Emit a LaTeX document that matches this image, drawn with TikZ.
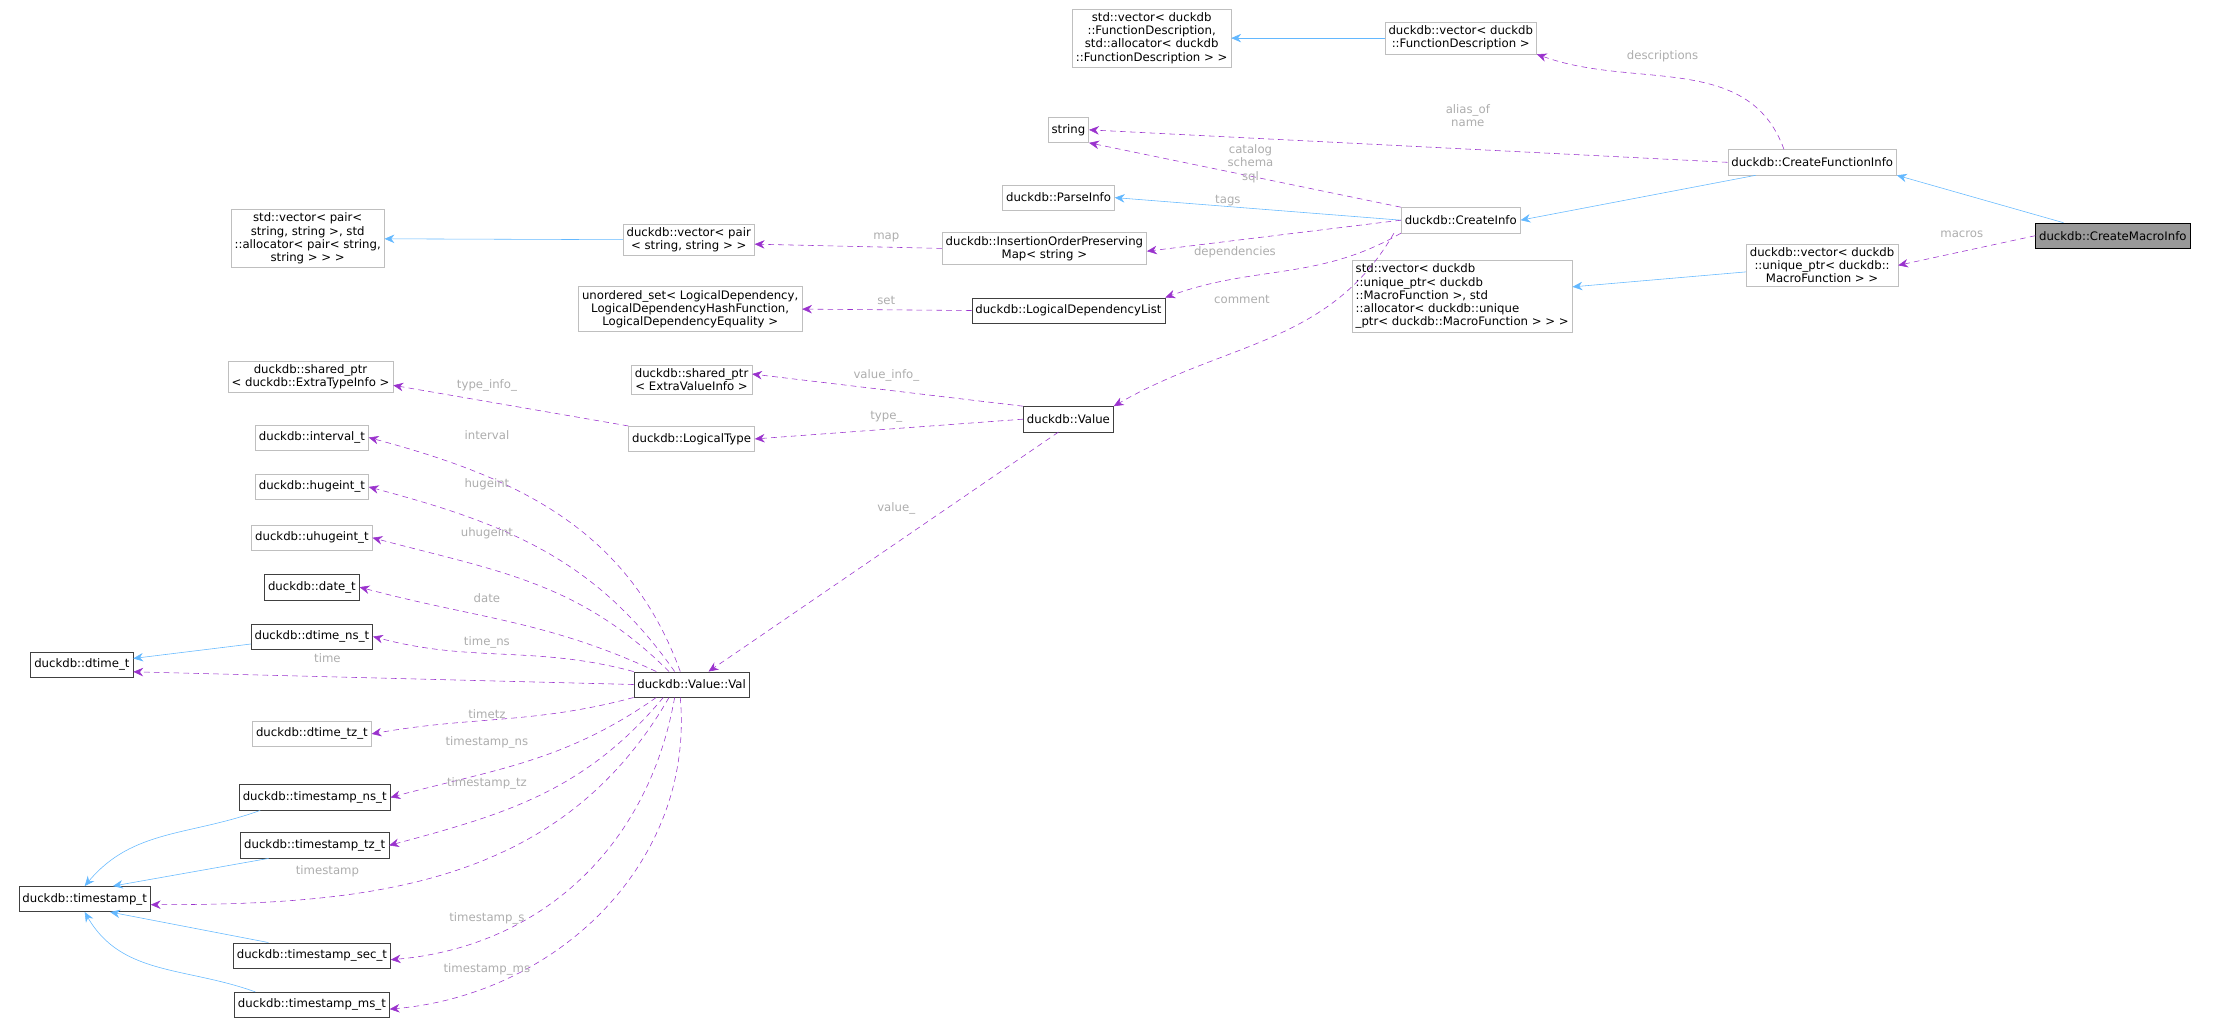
\documentclass[tikz,border=0pt]{standalone}
\usepackage{fontspec}
\setmainfont{DejaVu Sans}
\usetikzlibrary{arrows.meta, positioning}
\definecolor{inhblue}{HTML}{63B8FF}
\definecolor{usepurple}{HTML}{9A32CD}
\definecolor{lightedge}{HTML}{BFBFBF}
\definecolor{darkedge}{HTML}{404040}
\definecolor{lblgray}{HTML}{ADADAD}
\tikzset{
  cls/.style={draw=lightedge, fill=white, font=\fontsize{8.3}{9.4}\selectfont, inner sep=2.5pt, align=center, minimum height=18pt},
  doc/.style={cls, draw=darkedge},
  inh/.style={inhblue, -{Stealth[length=7pt,width=6pt]}},
  use/.style={usepurple, dashed, dash pattern=on 4pt off 3pt, -{Stealth[length=7pt,width=6pt]}},
  lbl/.style={lblgray, font=\fontsize{8.3}{9.4}\selectfont, align=center, inner sep=1pt}
}
\begin{document}
\begin{tikzpicture}[x=1pt, y=-1pt]
  \useasboundingbox (0,0) rectangle (1568,729);

  % classes
  \node[cls, draw=black, fill=black!40] (macro) at (1497,167) {duckdb::CreateMacroInfo};
  \node[cls] (cfi) at (1284,115) {duckdb::CreateFunctionInfo};
  \node[cls] (vecfd) at (1035,27) {duckdb::vector< duckdb\\::FunctionDescription >};
  \node[cls] (stdvecfd) at (816,27) {std::vector< duckdb\\::FunctionDescription,\\ std::allocator< duckdb\\::FunctionDescription > >};
  \node[cls] (str) at (757,92) {string};
  \node[cls] (parse) at (750,140) {duckdb::ParseInfo};
  \node[cls] (create) at (1035,156) {duckdb::CreateInfo};
  \node[cls] (iop) at (740,176) {duckdb::InsertionOrderPreserving\\Map< string >};
  \node[cls] (vecpair) at (488,170) {duckdb::vector< pair\\< string, string > >};
  \node[cls] (stdvecpair) at (218,169) {std::vector< pair<\\ string, string >, std\\::allocator< pair< string,\\ string > > >};
  \node[doc] (ldl) at (757,220) {duckdb::LogicalDependencyList};
  \node[cls] (uset) at (489,219) {unordered\_set< LogicalDependency,\\LogicalDependencyHashFunction,\\ LogicalDependencyEquality >};
  \node[cls] (vecmacro) at (1291,188) {duckdb::vector< duckdb\\::unique\_ptr< duckdb::\\MacroFunction > >};
  \node[cls, align=left] (stdvecmacro) at (1036,210) {std::vector< duckdb\\::unique\_ptr< duckdb\\::MacroFunction >, std\\::allocator< duckdb::unique\\\_ptr< duckdb::MacroFunction > > >};
  \node[cls] (evi) at (490,269) {duckdb::shared\_ptr\\< ExtraValueInfo >};
  \node[cls] (eti) at (220,267) {duckdb::shared\_ptr\\< duckdb::ExtraTypeInfo >};
  \node[doc] (value) at (757,297) {duckdb::Value};
  \node[cls] (ltype) at (490,311) {duckdb::LogicalType};
  \node[cls] (interval) at (221,310) {duckdb::interval\_t};
  \node[cls] (hugeint) at (221,345) {duckdb::hugeint\_t};
  \node[cls] (uhugeint) at (221,381) {duckdb::uhugeint\_t};
  \node[doc] (date) at (221,416) {duckdb::date\_t};
  \node[doc] (dtimens) at (221,451) {duckdb::dtime\_ns\_t};
  \node[doc] (dtime) at (58,471) {duckdb::dtime\_t};
  \node[doc] (val) at (490,485) {duckdb::Value::Val};
  \node[cls] (dtimetz) at (221,520) {duckdb::dtime\_tz\_t};
  \node[doc] (tsns) at (223,565) {duckdb::timestamp\_ns\_t};
  \node[doc] (tstz) at (223,599) {duckdb::timestamp\_tz\_t};
  \node[doc] (ts) at (60,637) {duckdb::timestamp\_t};
  \node[doc] (tssec) at (221,677) {duckdb::timestamp\_sec\_t};
  \node[doc] (tsms) at (221,712) {duckdb::timestamp\_ms\_t};

  % inheritance
  \draw[inh] (macro.north west) ++(20,0) -- (cfi.south east) ;
  \draw[inh] (cfi.south west) ++(20,0) -- (create.east);
  \draw[inh] (create.west) -- (parse.east);
  \draw[inh] (vecfd) -- (stdvecfd);
  \draw[inh] (vecpair) -- (stdvecpair);
  \draw[inh] (vecmacro) -- (stdvecmacro);
  \draw[inh] (dtimens) -- (dtime);
  \draw[inh] (tsns.south west) ++(15,0) to[out=200,in=50] (ts.north);
  \draw[inh] (tstz.south west) ++(20,0) -- ([xshift=20pt]ts.north);
  \draw[inh] (tssec.north west) ++(25,0) -- ([xshift=18pt]ts.south);
  \draw[inh] (tsms.north west) ++(15,0) to[out=160,in=-60] (ts.south);

  % usage
  \draw[use] (macro.west) -- (vecmacro.east);
  \draw[use] ([xshift=-20pt]cfi.north) to[out=110,in=-20] (vecfd.south east);
  \draw[use] (cfi.west) -- (str.east);
  \draw[use] (create.north west) -- (str.south east);
  \draw[use] (create.west) -- ([yshift=-2pt]iop.east);
  \draw[use] (create.south west) to[out=-150,in=20] (ldl.north east);
  \draw[use] ([xshift=-5pt]create.south west) to[out=-120,in=30] (value.north east);
  \draw[use] (iop.west) -- ([yshift=-3pt]vecpair.east);
  \draw[use] (ldl.west) -- (uset.east);
  \draw[use] (value.north west) -- ([yshift=4pt]evi.east);
  \draw[use] (value.west) -- (ltype.east);
  \draw[use] (ltype.north west) -- ([yshift=-6pt]eti.east);
  \draw[use] (value.south west) ++(25,0) -- ([xshift=12pt]val.north);

  \draw[use] ([xshift=-8pt]val.north) to[out=110,in=-15] (interval.east);
  \draw[use] ([xshift=-12pt]val.north) to[out=125,in=-15] (hugeint.east);
  \draw[use] ([xshift=-16pt]val.north) to[out=135,in=-15] (uhugeint.east);
  \draw[use] ([xshift=-25pt]val.north) to[out=155,in=-15] (date.east);
  \draw[use] (val.north west) to[out=165,in=-15] (dtimens.east);
  \draw[use] (val.west) -- ([yshift=-5pt]dtime.east);
  \draw[use] (val.south west) to[out=-165,in=10] (dtimetz.east);
  \draw[use] ([xshift=-25pt]val.south) to[out=-145,in=15] (tsns.east);
  \draw[use] ([xshift=-20pt]val.south) to[out=-130,in=15] (tstz.east);
  \draw[use] ([xshift=-16pt]val.south) to[out=-120,in=0] ([yshift=-4pt]ts.east);
  \draw[use] ([xshift=-12pt]val.south) to[out=-100,in=5] ([yshift=-3pt]tssec.east);
  \draw[use] ([xshift=-8pt]val.south) to[out=-85,in=5] ([yshift=-3pt]tsms.east);

  % labels
  \node[lbl] (lmacros) at (1390,166) {macros};
  \node[lbl] (ldesc) at (1178,40) {descriptions};
  \node[lbl] (lalias) at (1040,82) {alias\_of\\name};
  \node[lbl] (lcat) at (886,116) {catalog\\schema\\sql};
  \node[lbl] (ltags) at (870,142) {tags};
  \node[lbl] (ldeps) at (875,179) {dependencies};
  \node[lbl] (lcomm) at (880,212) {comment};
  \node[lbl] (lmap) at (628,168) {map};
  \node[lbl] (lset) at (628,213) {set};
  \node[lbl] (lvi) at (628,266) {value\_info\_};
  \node[lbl] (lty) at (628,295) {type\_};
  \node[lbl] (lti) at (345,273) {type\_info\_};
  \node[lbl] (lint) at (345,308) {interval};
  \node[lbl] (lhuge) at (345,343) {hugeint};
  \node[lbl] (luhuge) at (345,378) {uhugeint};
  \node[lbl] (ldate) at (345,424) {date};
  \node[lbl] (ltns) at (345,455) {time\_ns};
  \node[lbl] (ltime) at (232,466) {time};
  \node[lbl] (ltz) at (345,506) {timetz};
  \node[lbl] (ltsns) at (345,526) {timestamp\_ns};
  \node[lbl] (ltstz) at (345,555) {timestamp\_tz};
  \node[lbl] (lts) at (232,617) {timestamp};
  \node[lbl] (ltss) at (345,651) {timestamp\_s};
  \node[lbl] (ltsms) at (345,687) {timestamp\_ms};
  \node[lbl] (lval) at (635,360) {value\_};
\end{tikzpicture}
\end{document}
